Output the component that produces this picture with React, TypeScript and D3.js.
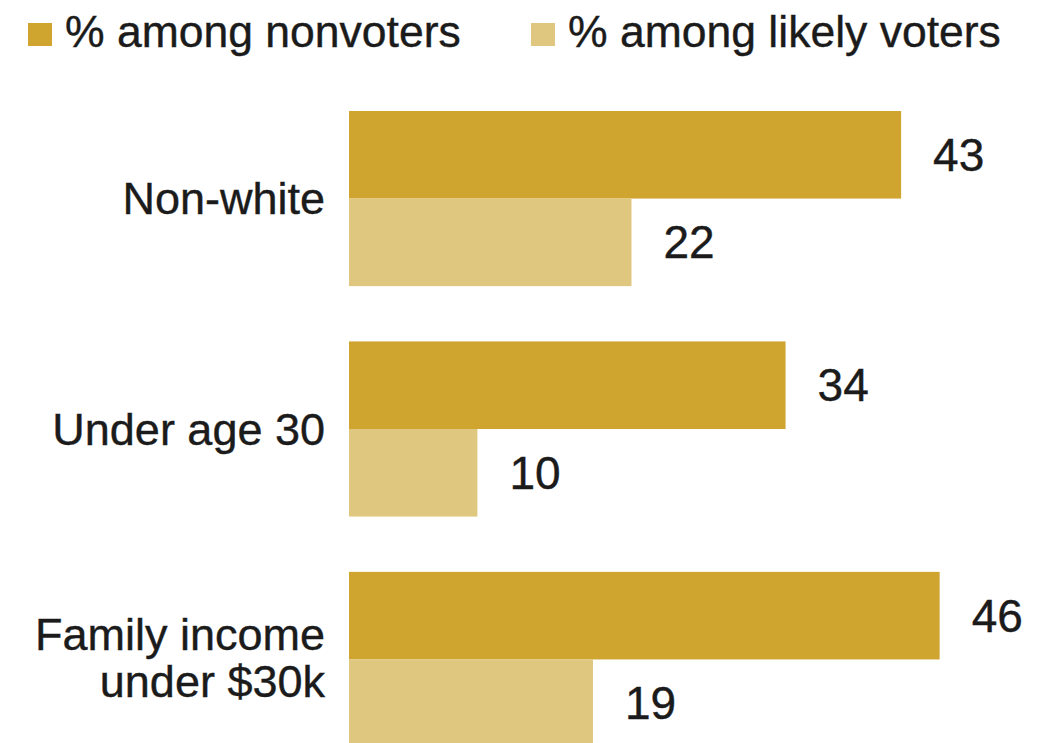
import React from "react";
import * as d3 from "d3";

const categories: string[][] = [["Non-white"], ["Under age 30"], ["Family income", "under $30k"]];
const categoryKeys = ["nonwhite", "under30", "income30k"];
const seriesNames = ["% among nonvoters", "% among likely voters"];
const seriesKeys = ["nonvoters", "likely"];
const nonvoters = [43, 34, 46];
const likelyVoters = [22, 10, 19];
const colors = ["#cfa42f", "#e0c77f"];

const W = 1052;
const H = 743;

export default function App() {
  const x = d3.scaleLinear().domain([0, 50]).range([349, 349 + 12.84 * 50]);
  const y = d3.scaleBand<string>().domain(categoryKeys).range([111, 747]).paddingInner(0.24).paddingOuter(0);
  const inner = d3.scaleBand<string>().domain(seriesKeys).range([0, y.bandwidth()]).padding(0);
  const values = [nonvoters, likelyVoters];
  const font = "'Liberation Sans', Arial, sans-serif";
  const textColor = "#1b1b1b";

  const legendX = [28, 531];
  return (
    <svg width={W} height={H} style={{ position: "absolute", left: 0, top: 0, background: "#fff" }} fontFamily={font}>
      {seriesNames.map((name, i) => (
        <g key={name}>
          <rect x={legendX[i]} y={23} width={24} height={23} fill={colors[i]} />
          <text x={legendX[i] + 37} y={47} fontSize={44.5} fill={textColor} stroke={textColor} strokeWidth={0.4}>
            {name}
          </text>
        </g>
      ))}
      {categoryKeys.map((k, ci) => {
        const y0 = y(k)!;
        const center = y0 + y.bandwidth() / 2;
        const lines = categories[ci];
        const lh = 47;
        const shift = lines.length > 1 ? -2 : 0;
        return (
          <g key={k}>
            {lines.map((ln, li) => (
              <text
                key={li}
                x={325}
                y={center + (li - (lines.length - 1) / 2) * lh + shift}
                dy="0.35em"
                textAnchor="end"
                fontSize={45}
                fill={textColor}
                stroke={textColor}
                strokeWidth={0.4}
              >
                {ln}
              </text>
            ))}
            {seriesKeys.map((s, si) => {
              const v = values[si][ci];
              const by = y0 + inner(s)!;
              return (
                <g key={s}>
                  <rect x={x(0)} y={by} width={x(v) - x(0)} height={inner.bandwidth()} fill={colors[si]} />
                  <text
                    x={x(v) + 32}
                    y={by + inner.bandwidth() / 2}
                    dy="0.35em"
                    fontSize={46}
                    fill={textColor}
                    stroke={textColor}
                    strokeWidth={0.4}
                  >
                    {v}
                  </text>
                </g>
              );
            })}
          </g>
        );
      })}
    </svg>
  );
}
